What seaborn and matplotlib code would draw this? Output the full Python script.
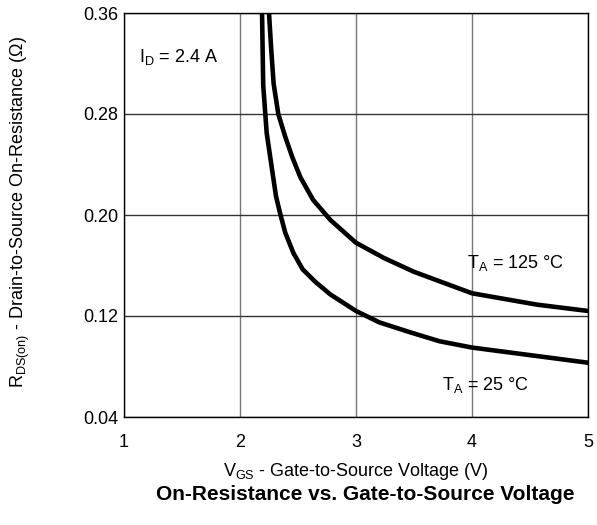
import numpy as np
import pandas as pd
import matplotlib
matplotlib.use("Agg")
import matplotlib.pyplot as plt
import seaborn as sns

# Data
vgs_25 = [2.19, 2.20, 2.23, 2.27, 2.31, 2.345, 2.39, 2.46, 2.54, 2.65, 2.78, 3.00, 3.20, 3.47, 3.72, 4.00, 4.50, 5.00]
r_25 = [0.360, 0.303, 0.265, 0.240, 0.215, 0.2016, 0.186, 0.170, 0.157, 0.147, 0.137, 0.124, 0.115, 0.107, 0.100, 0.095, 0.089, 0.083]
vgs_125 = [2.25, 2.27, 2.29, 2.33, 2.39, 2.45, 2.52, 2.63, 2.78, 3.00, 3.24, 3.50, 4.00, 4.56, 5.00]
r_125 = [0.360, 0.330, 0.304, 0.280, 0.262, 0.246, 0.230, 0.212, 0.196, 0.178, 0.166, 0.155, 0.138, 0.129, 0.124]
series_labels = ["25", "125"]
x_ticks = [1, 2, 3, 4, 5]
y_ticks = [0.04, 0.12, 0.20, 0.28, 0.36]

df = pd.concat([
    pd.DataFrame({"VGS": vgs_25, "R": r_25, "T": series_labels[0]}),
    pd.DataFrame({"VGS": vgs_125, "R": r_125, "T": series_labels[1]}),
])

sns.set_style("white")
plt.rcParams['font.family'] = ['Liberation Sans', 'DejaVu Sans']
plt.rcParams['mathtext.default'] = 'regular'
plt.rcParams['text.color'] = 'black'
plt.rcParams['xtick.color'] = 'black'
plt.rcParams['ytick.color'] = 'black'

fig = plt.figure(figsize=(5.97, 5.25), dpi=100)
ax = fig.add_axes([124/597, 1-417/525, (588-124)/597, (417-13)/525])

sns.lineplot(data=df, x="VGS", y="R", units="T", estimator=None, color="black",
             linewidth=3.3, ax=ax, sort=False, legend=False)

ax.set_xlim(1, 5)
ax.set_ylim(0.04, 0.36)
ax.set_xticks(x_ticks)
ax.set_yticks(y_ticks)
ax.set_xticklabels([str(v) for v in x_ticks], fontsize=13, color='black')
ax.set_yticklabels([f"{v:.2f}" for v in y_ticks], fontsize=13, color='black')
ax.tick_params(axis='x', direction='in', length=4, width=1, pad=12, color='black')
ax.tick_params(axis='y', length=0, pad=4)
ax.grid(True, axis='x', color='#777777', linewidth=1.0)
ax.grid(True, axis='y', color='#333333', linewidth=1.0)
ax.set_axisbelow(True)
for s in ax.spines.values():
    s.set_color('black')
    s.set_linewidth(1.0)
ax.set_xlabel("")
ax.set_ylabel("")

ax.text(1.13, 0.321, r"I$_D$ = 2.4 A", fontsize=13, ha='left', va='baseline', color='black')
ax.text(3.957, 0.158, r"T$_A$ = 125 °C", fontsize=13, ha='left', va='baseline', color='black')
ax.text(3.74, 0.0613, r"T$_A$ = 25 °C", fontsize=13, ha='left', va='baseline', color='black')

fig.text(356/597, 1-471/525, r"V$_{GS}$ - Gate-to-Source Voltage (V)", fontsize=13,
         ha='center', va='center', color='black')
fig.text(20/597, 1-212/525, r"R$_{DS(on)}$ - Drain-to-Source On-Resistance ($\Omega$)",
         fontsize=13, rotation=90, ha='center', va='center', color='black')
fig.text(365/597, 1-495/525, "On-Resistance vs. Gate-to-Source Voltage", fontsize=15,
         fontweight='bold', ha='center', va='center', color='black')

fig.savefig("out.png", dpi=100)
